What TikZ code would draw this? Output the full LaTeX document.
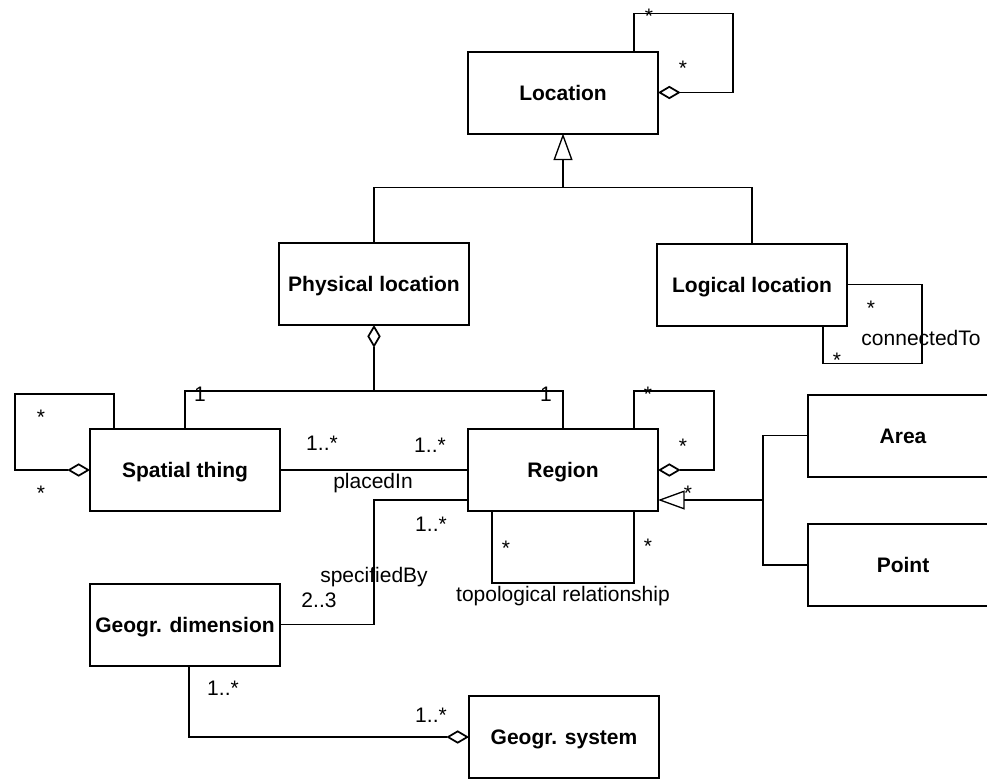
\documentclass[tikz,border=0pt]{standalone}
\usepackage{fontspec}
\setmainfont{Liberation Sans}
\usetikzlibrary{arrows.meta,calc}
\begin{document}
\begin{tikzpicture}[x=0.75pt,y=-0.75pt,
  every node/.style={font=\fontsize{15.75}{19}\selectfont},
  cls/.style={draw,line width=1.5pt,minimum width=142.5pt,minimum height=61.5pt,
    inner sep=0pt,outer sep=0pt,font=\fontsize{15.75}{19}\selectfont\bfseries,
    text height=11.3pt,text depth=0pt},
  conn/.style={line width=0.8pt},
  agg/.style={conn,arrows={Diamond[open,length=17pt,width=10pt,line width=1.3pt]-}},
  gen/.style={conn,arrows={-Triangle[open,length=20pt,width=14.25pt,line width=1pt]}},
  lbl/.style={anchor=base,inner sep=0pt},
]
\useasboundingbox (0,0) rectangle (987,778);
\clip (0,0) rectangle (987,778);

% classes
\node[cls] (loc)  at (563,92.5)  {Location};
\node[cls] (phys) at (374,284)   {Physical location};
\node[cls] (logi) at (752,284.5) {Logical location};
\node[cls] (spat) at (185,470)   {Spatial thing};
\node[cls] (reg)  at (563,470)   {Region};
\node[cls] (area) at (903,435.5) {Area};
\node[cls] (pt)   at (903,565)   {Point};
\node[cls] (gdim) at (185,624.5) {Geogr. dimension};
\node[cls] (gsys) at (564,737)   {Geogr. system};

% Physical / Logical location specialise Location
\coordinate (gj) at ($(loc.south)+(0,54)$);
\draw[conn] (phys.north) |- (gj) -| (logi.north);
\draw[gen] (gj) -- (loc.south);

% Physical location aggregates Spatial thing and Region
\coordinate (pj) at ($(phys.south)+(0,66)$);
\draw[agg] (phys.south) -- (pj);
\draw[conn] (spat.north) |- (pj) -| (reg.north);
\node[lbl] (pm1) at (200,401) {1};
\node[lbl] (pm2) at (546,401) {1};

% Location self aggregation
\draw[agg] (loc.east) -| ($(loc.north)+(170,-38)$) -| ($(loc.north)+(71,0)$);
\node[lbl] (lm1) at (649,23) {*};
\node[lbl] (lm2) at (683,75) {*};

% Logical location connectedTo
\draw[conn] (logi.east) -| ($(logi.south)+(170,38)$) -| ($(logi.south)+(71,0)$);
\node[lbl] (cm1) at (871,315) {*};
\node[lbl] (ct)  at (921,345) {connectedTo};
\node[lbl] (cm2) at (837,367) {*};

% Spatial thing self aggregation
\draw[agg] (spat.west) -| ($(spat.north)+(-170,-35)$) -| ($(spat.north)+(-71,0)$);
\node[lbl] (sm1) at (41,424) {*};
\node[lbl] (sm2) at (41,500) {*};

% placedIn
\draw[conn] (spat.east) -- (reg.west);
\node[lbl] (pim1) at (322,450) {1..*};
\node[lbl] (pim2) at (430,452) {1..*};
\node[lbl] (pi)   at (373,488) {placedIn};

% Region self aggregation
\draw[agg] (reg.east) -| ($(reg.north)+(151,-38)$) -| ($(reg.north)+(71,0)$);
\node[lbl] (rm1) at (648,401) {*};
\node[lbl] (rm2) at (683,453) {*};

% Area / Point specialise Region
\coordinate (aj) at ($(reg.east)+(105,30)$);
\draw[conn] (area.west) -| (aj) |- (pt.west);
\draw[gen] (aj) -- (aj -| reg.east);
\node[lbl] (gm) at (688,500) {*};

% specifiedBy
\coordinate (sj) at ($(reg.west)+(0,30)$);
\draw[conn] (gdim.east) -| ($(sj)+(-94,0)$) -- (sj);
\node[lbl] (sbm1) at (431,531) {1..*};
\node[lbl] (sb)   at (374,582) {specifiedBy};
\node[lbl] (sbm2) at (319,607) {2..3};

% topological relationship
\draw[conn] ($(reg.south)+(-71,0)$) -- ++(0,72) -| ($(reg.south)+(71,0)$);
\node[lbl] (tm1) at (506,555) {*};
\node[lbl] (tm2) at (648,553) {*};
\node[lbl] (tr)  at (563,601) {topological relationship};

% Geogr. system aggregates Geogr. dimension
\draw[agg] (gsys.west) -| ($(gdim.south)+(4,0)$);
\node[lbl] (gdm1) at (223,695) {1..*};
\node[lbl] (gdm2) at (431,722) {1..*};
\end{tikzpicture}
\end{document}
